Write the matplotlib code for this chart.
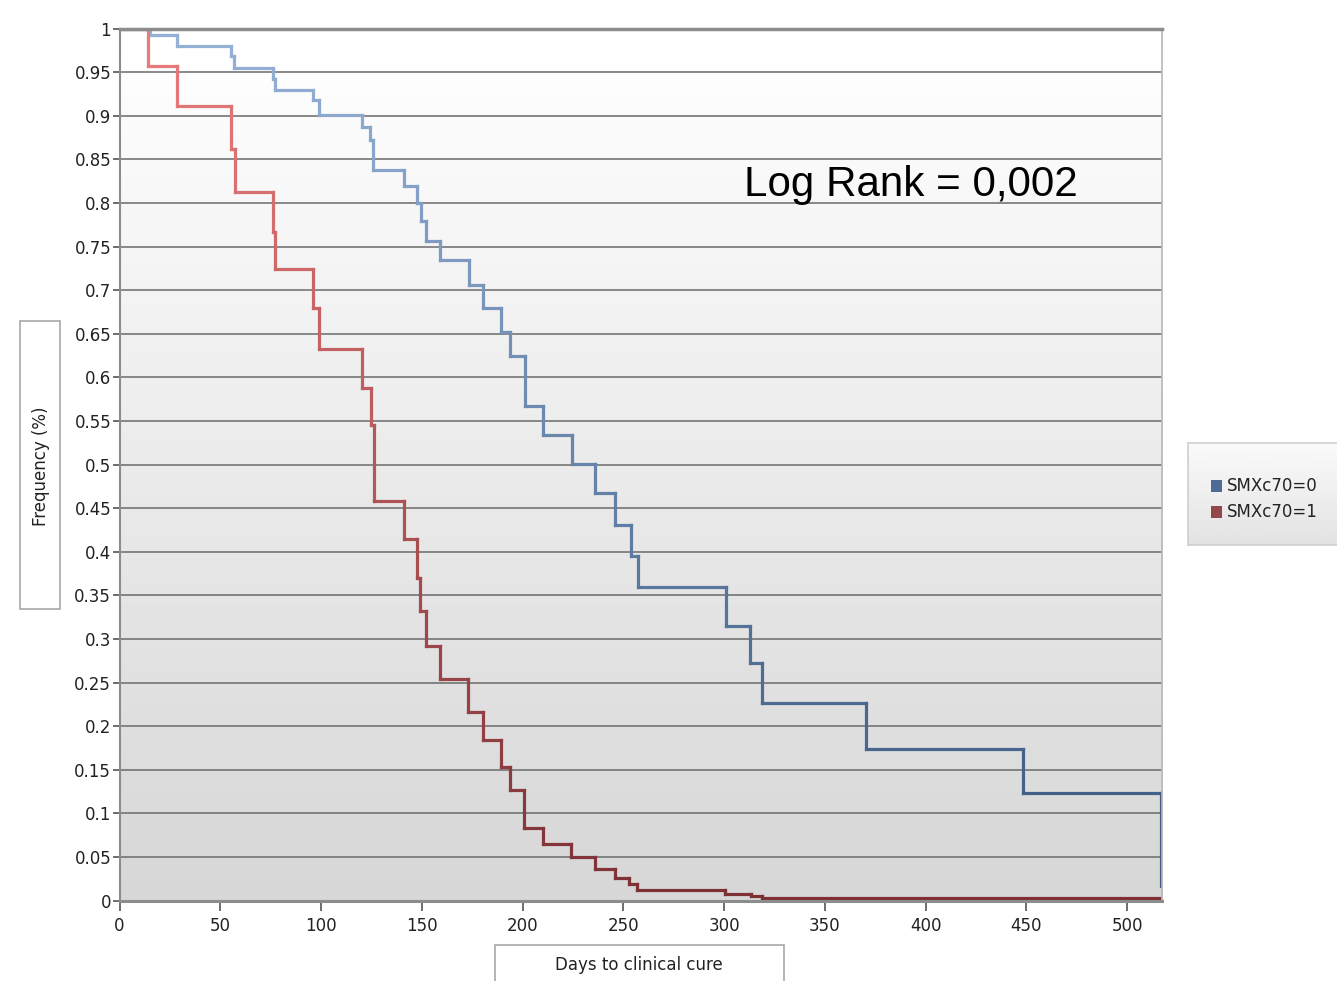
import numpy as np
import matplotlib
matplotlib.use("Agg")
import matplotlib.pyplot as plt
from matplotlib.collections import LineCollection
from matplotlib.patches import Rectangle

# ---------------- data ----------------
days_blue = [0, 15, 28.6, 55.5, 57, 76.3, 77, 96, 99, 120.5, 124.3, 126, 141, 147.5,
             149.5, 152, 159, 173.5, 180.4, 189.5, 194, 201, 210, 224.4, 236, 246,
             253.7, 257.4, 301, 313, 319, 370.2, 448.5, 517]
surv_blue = [1.0, 0.992, 0.980, 0.968, 0.955, 0.942, 0.930, 0.918, 0.901, 0.887, 0.872,
             0.838, 0.819, 0.800, 0.779, 0.756, 0.734, 0.706, 0.680, 0.652, 0.625,
             0.567, 0.534, 0.501, 0.467, 0.431, 0.395, 0.359, 0.315, 0.272, 0.227,
             0.174, 0.123, 0.017]

days_red = [0, 14.2, 28.6, 55.5, 57.2, 76.3, 77, 96, 99, 120.5, 124.6, 126.3, 141,
            147.5, 149, 152, 159, 173, 180.4, 189.5, 194, 200.7, 210, 224, 236, 246,
            253, 257, 300.5, 313.6, 318.6, 517]
surv_red = [1.0, 0.957, 0.911, 0.862, 0.813, 0.767, 0.724, 0.680, 0.632, 0.588, 0.545,
            0.458, 0.414, 0.370, 0.332, 0.292, 0.254, 0.216, 0.184, 0.153, 0.127,
            0.083, 0.065, 0.050, 0.036, 0.026, 0.019, 0.012, 0.008, 0.005, 0.003, 0.003]

series_labels = ["SMXc70=0", "SMXc70=1"]
x_ticks = [0, 50, 100, 150, 200, 250, 300, 350, 400, 450, 500]
y_ticks = [0, 0.05, 0.1, 0.15, 0.2, 0.25, 0.3, 0.35, 0.4, 0.45, 0.5, 0.55, 0.6, 0.65,
           0.7, 0.75, 0.8, 0.85, 0.9, 0.95, 1]
y_tick_labels = ["0", "0.05", "0.1", "0.15", "0.2", "0.25", "0.3", "0.35", "0.4", "0.45",
                 "0.5", "0.55", "0.6", "0.65", "0.7", "0.75", "0.8", "0.85", "0.9",
                 "0.95", "1"]
annotation = "Log Rank = 0,002"
x_label = "Days to clinical cure"
y_label = "Frequency (%)"

# colours at top (y=1) and bottom (y=0) of the curves
blue_top, blue_bot = np.array([150, 178, 215]) / 255, np.array([55, 85, 125]) / 255
red_top, red_bot = np.array([235, 125, 125]) / 255, np.array([125, 48, 52]) / 255

plt.rcParams['font.family'] = ['DejaVu Sans']
W, H = 1337, 981
fig = plt.figure(figsize=(W / 100, H / 100), dpi=100)
fig.patch.set_facecolor('white')

ax_l, ax_r, ax_t, ax_b = 119.5, 1162, 28.5, 900.5
ax = fig.add_axes([ax_l / W, 1 - ax_b / H, (ax_r - ax_l) / W, (ax_b - ax_t) / H])
ax.set_xlim(0, 517.3)
ax.set_ylim(0, 1)

# gradient background
grad = np.linspace(0.84, 1.0, 256).reshape(-1, 1)
ax.imshow(grad, extent=[0, 1, 0, 1], transform=ax.transAxes, origin='lower',
          cmap='gray', vmin=0, vmax=1, aspect='auto', zorder=0)

# grid lines
for yv in y_ticks[1:-1]:
    ax.axhline(yv, color='#6a6a6a', lw=1.1, zorder=1)


def step_collection(days, surv, ctop, cbot):
    xs, ys = [], []
    for i in range(len(days)):
        if i > 0:
            xs.append(days[i]); ys.append(surv[i - 1])
        xs.append(days[i]); ys.append(surv[i])
    pts = np.column_stack([xs, ys])
    segs = [pts[i:i + 2] for i in range(len(pts) - 1) if not np.allclose(pts[i], pts[i + 1])]
    cols = []
    for s in segs:
        m = s[:, 1].mean()
        cols.append(tuple(cbot + (ctop - cbot) * m))
    return LineCollection(segs, colors=cols, linewidths=2.3, capstyle='projecting',
                          joinstyle='miter', zorder=3)


ax.add_collection(step_collection(days_blue, surv_blue, blue_top, blue_bot))
ax.add_collection(step_collection(days_red, surv_red, red_top, red_bot))

# spines
for side in ['left', 'bottom', 'top', 'right']:
    ax.spines[side].set_color('#8c8c8c')
ax.spines['left'].set_linewidth(1.5)
ax.spines['bottom'].set_linewidth(2.2)
ax.spines['top'].set_linewidth(2.5)
ax.spines['right'].set_linewidth(1.2)
ax.spines['right'].set_color('#b8b8b8')
for s in ax.spines.values():
    s.set_zorder(4)

ax.set_xticks(x_ticks)
ax.set_xticklabels([str(t) for t in x_ticks])
ax.set_yticks(y_ticks)
ax.set_yticklabels(y_tick_labels)
ax.tick_params(axis='both', colors='#555555', labelcolor='#222222', labelsize=12,
               length=5, width=1.2)
ax.tick_params(axis='x', length=7, pad=5)
ax.tick_params(axis='y', pad=1)

# annotation
fig.text(744 / W, 1 - 185 / H, annotation, fontsize=30.3, family='Liberation Sans',
         color='black', va='center', ha='left')

# y label box
fig.patches.append(Rectangle((20 / W, 1 - 609 / H), 40 / W, 288 / H, transform=fig.transFigure,
                             facecolor='white', edgecolor='#a8a8a8', lw=1.2))
fig.text(41 / W, 1 - 466 / H, y_label, rotation=90, fontsize=12, color='#222222',
         ha='center', va='center')

# x label box
fig.patches.append(Rectangle((495 / W, 1 - 990 / H), 289 / W, 45 / H, transform=fig.transFigure,
                             facecolor='white', edgecolor='#a8a8a8', lw=1.2, clip_on=False))
fig.text(639 / W, 1 - 965 / H, x_label, fontsize=12, color='#222222', ha='center', va='center')

# legend box with gradient
lx0, lx1, ly0, ly1 = 1188, 1345, 443, 545
lax = fig.add_axes([lx0 / W, 1 - ly1 / H, (lx1 - lx0) / W, (ly1 - ly0) / H])
lax.set_xlim(0, 1); lax.set_ylim(0, 1)
lgrad = np.linspace(0.89, 0.98, 64).reshape(-1, 1)
lax.imshow(lgrad, extent=[0, 1, 0, 1], origin='lower', cmap='gray', vmin=0, vmax=1,
           aspect='auto')
for s in lax.spines.values():
    s.set_color('#cfcfcf')
    s.set_linewidth(1.2)
lax.set_xticks([]); lax.set_yticks([])
sq_colors = [(0.30, 0.42, 0.58), (0.58, 0.28, 0.29)]
for i, (lab, c) in enumerate(zip(series_labels, sq_colors)):
    yc = 1 - (486 + 26 * i - ly0) / (ly1 - ly0)
    lax.add_patch(Rectangle((0.145, yc - 0.055), 0.07, 0.11, facecolor=c, edgecolor='none'))
    lax.text(0.25, yc, lab, fontsize=12, color='#222222', va='center', ha='left')

fig.savefig("out.png", dpi=100, facecolor='white')
